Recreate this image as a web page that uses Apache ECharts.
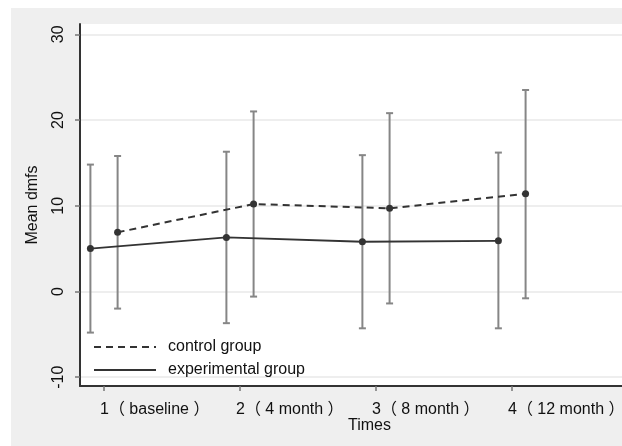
<!DOCTYPE html>
<html>
<head>
<meta charset="utf-8">
<script src="https://cdn.jsdelivr.net/npm/echarts@6/dist/echarts.min.js"></script>
<style>
html,body{margin:0;padding:0;background:#ffffff;overflow:hidden;}
#wrap{position:absolute;left:11px;top:8px;width:611px;height:438px;background:#efefef;}
#c{position:absolute;left:0;top:0;width:622px;height:446px;}
</style>
</head>
<body>
<div id="wrap"></div>
<div id="c"></div>
<script>
// Data
const timePoints = [1, 2, 3, 4];
const timeLabels = ['1（ baseline ）', '2（ 4 month ）', '3（ 8 month ）', '4（ 12 month ）'];
const yTicks = [-10, 0, 10, 20, 30];
const controlMean = [6.9, 10.2, 9.7, 11.4];
const controlLow = [-2.0, -0.6, -1.4, -0.8];
const controlHigh = [15.8, 21.0, 20.8, 23.5];
const expMean = [5.0, 6.3, 5.8, 5.9];
const expLow = [-4.8, -3.7, -4.3, -4.3];
const expHigh = [14.8, 16.3, 15.9, 16.2];
const offset = 0.1;

const FONT = "'Liberation Sans', Arial, 'Noto Sans CJK SC', sans-serif";
const FS = 16;
const TXT = '#111';
const chart = echarts.init(document.getElementById('c'), null, {renderer: 'canvas'});

function meanData(means, sign) {
  return timePoints.map((t, i) => [t + sign * offset, means[i]]);
}
function barData(low, high, sign) {
  return timePoints.map((t, i) => [t + sign * offset, low[i], high[i]]);
}
function errRender(params, api) {
  const x = api.value(0);
  const lo = api.coord([x, api.value(1)]);
  const hi = api.coord([x, api.value(2)]);
  const cap = 3.5;
  const style = {stroke: '#868686', lineWidth: 2, fill: null};
  return {
    type: 'group',
    children: [
      {type: 'line', shape: {x1: lo[0], y1: lo[1], x2: hi[0], y2: hi[1]}, style: style},
      {type: 'line', shape: {x1: lo[0] - cap, y1: lo[1], x2: lo[0] + cap, y2: lo[1]}, style: style},
      {type: 'line', shape: {x1: hi[0] - cap, y1: hi[1], x2: hi[0] + cap, y2: hi[1]}, style: style}
    ]
  };
}

const xMin = 0.8235, xMax = 4.809;
const labelShift = 4 / 136; // shift so first character sits on the tick

const option = {
  backgroundColor: 'transparent',
  animation: false,
  textStyle: {fontFamily: FONT},
  grid: {left: 80, top: 24, right: 0, bottom: 60, show: true, backgroundColor: '#ffffff',
         borderWidth: 0, borderColor: 'rgba(0,0,0,0)',
         containLabel: false, outerBoundsMode: 'none'},
  legend: {
    orient: 'vertical',
    left: 93,
    top: 339,
    itemWidth: 62,
    itemHeight: 14,
    itemGap: 7,
    padding: 0,
    data: ['control group', 'experimental group'],
    itemStyle: {opacity: 0},
    textStyle: {fontSize: FS, color: TXT, fontFamily: FONT, lineHeight: 14, padding: [0, 0, 0, 7]}
  },
  xAxis: {
    type: 'value',
    min: xMin,
    max: xMax,
    axisLine: {show: true, onZero: false, lineStyle: {color: '#333', width: 2}},
    axisTick: {show: true, customValues: timePoints, length: 5, lineStyle: {color: '#777', width: 1.5}},
    axisLabel: {
      customValues: timePoints.map(t => t - labelShift),
      formatter: v => timeLabels[Math.round(v) - 1],
      align: 'left',
      showMinLabel: true, showMaxLabel: true,
      fontSize: FS, color: TXT, margin: 16, fontFamily: FONT
    },
    splitLine: {show: false}
  },
  yAxis: {
    type: 'value',
    min: -11.03,
    max: 31.2,
    name: 'Mean dmfs',
    nameLocation: 'middle',
    nameGap: 39,
    nameTextStyle: {fontSize: FS, color: TXT, fontFamily: FONT},
    axisLine: {show: true, onZero: false, lineStyle: {color: '#333', width: 2}},
    axisTick: {show: true, customValues: yTicks, length: 5, lineStyle: {color: '#777', width: 1.5}},
    axisLabel: {customValues: yTicks, rotate: 90, fontSize: FS, color: TXT, margin: 13, fontFamily: FONT},
    splitLine: {show: true, lineStyle: {color: '#e8e8e8', width: 1.5}}
  },
  graphic: [{
    type: 'text', left: 348, top: 418,
    style: {text: 'Times', fontSize: FS, fill: TXT, fontFamily: FONT}
  }],
  series: [
    {name: 'control bars', type: 'custom', renderItem: errRender, data: barData(controlLow, controlHigh, 1), z: 1, encode: {x: 0, y: [1, 2]}},
    {name: 'experimental bars', type: 'custom', renderItem: errRender, data: barData(expLow, expHigh, -1), z: 1, encode: {x: 0, y: [1, 2]}},
    {
      name: 'control group', type: 'line', data: meanData(controlMean, 1), z: 3,
      symbol: 'circle', symbolSize: 7,
      itemStyle: {color: '#333'},
      lineStyle: {color: '#333', width: 2, type: [7, 5]}
    },
    {
      name: 'experimental group', type: 'line', data: meanData(expMean, -1), z: 3,
      symbol: 'circle', symbolSize: 7,
      itemStyle: {color: '#333'},
      lineStyle: {color: '#333', width: 1.8, type: 'solid'}
    }
  ]
};
chart.setOption(option);
</script>
</body>
</html>
